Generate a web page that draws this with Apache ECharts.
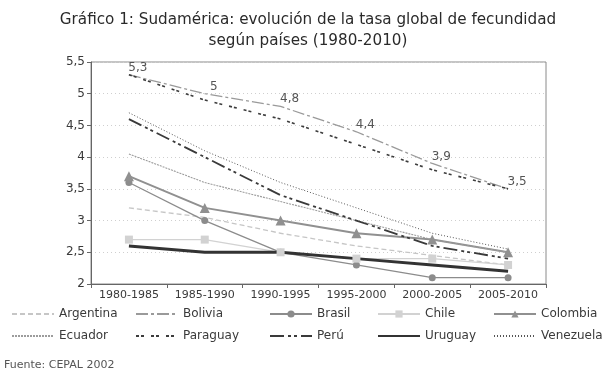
<!DOCTYPE html>
<html>
<head>
<meta charset="utf-8">
<script src="https://cdn.jsdelivr.net/npm/echarts@6/dist/echarts.min.js"></script>
<style>
  html, body { margin: 0; padding: 0; background: #fff; }
  #chart { width: 616px; height: 380px; }
</style>
</head>
<body>
<div id="chart"></div>
<script>
// periodos (eje x)
const periods = ['1980-1985', '1985-1990', '1990-1995', '1995-2000', '2000-2005', '2005-2010'];

// tasa global de fecundidad por pais
const argentina = [3.2, 3.05, 2.8, 2.6, 2.45, 2.3];
const bolivia = [5.3, 5.0, 4.8, 4.4, 3.9, 3.5];
const brasil = [3.6, 3.0, 2.5, 2.3, 2.1, 2.1];
const chile = [2.7, 2.7, 2.5, 2.4, 2.4, 2.3];
const colombia = [3.7, 3.2, 3.0, 2.8, 2.7, 2.5];
const ecuador = [4.05, 3.6, 3.3, 3.0, 2.7, 2.5];
const paraguay = [5.3, 4.9, 4.6, 4.2, 3.8, 3.5];
const peru = [4.6, 4.0, 3.4, 3.0, 2.6, 2.4];
const uruguay = [2.6, 2.5, 2.5, 2.4, 2.3, 2.2];
const venezuela = [4.7, 4.1, 3.6, 3.2, 2.8, 2.55];

const yTicks = { min: 2, max: 5.5, interval: 0.5 };

// series drawn without markers (legend shows only the line)
const noMarker = ['Argentina', 'Bolivia', 'Ecuador', 'Paraguay', 'Perú', 'Uruguay', 'Venezuela'];

const FONT = 'DejaVu Sans';
const chart = echarts.init(document.getElementById('chart'));

// helper for one line series
const line = (name, data, color, width, type, symbol, symbolSize) => ({
  name,
  type: 'line',
  data,
  color,
  symbol: symbol || 'none',
  symbolSize: symbolSize || 0,
  showSymbol: !!symbol,
  itemStyle: { color },
  lineStyle: { color, width, type },
  emphasis: { disabled: true },
  animation: false
});

const columnLegend = (left, names) => ({
  left,
  top: 303,
  orient: 'vertical',
  itemWidth: 42,
  itemHeight: 9,
  itemGap: 10,
  data: names.map(n => noMarker.includes(n)
    ? { name: n, itemStyle: { opacity: 0 } }
    : { name: n }),
  textStyle: { color: '#3a3a3a', fontSize: 12, fontFamily: FONT },
  selectedMode: false
});

const bol = line('Bolivia', bolivia, '#9a9a9a', 1.3, [12, 3, 3, 3], 'circle', 0.1);
bol.itemStyle = { color: 'rgba(0,0,0,0)' };
bol.label = {
  show: true,
  position: 'top',
  distance: 1,
  offset: [9, 0],
  color: '#555',
  fontSize: 12,
  fontFamily: FONT,
  formatter: p => String(p.value).replace('.', ',')
};

chart.setOption({
  animation: false,
  textStyle: { fontFamily: FONT },
  title: {
    text: 'Gráfico 1: Sudamérica: evolución de la tasa global de fecundidad\nsegún países (1980-2010)',
    left: 'center',
    top: 5,
    textStyle: {
      color: '#2a2a2a',
      fontSize: 15.2,
      fontWeight: 'normal',
      fontFamily: FONT,
      lineHeight: 21,
      align: 'center'
    }
  },
  legend: [
    columnLegend(6, ['Argentina', 'Ecuador']),
    columnLegend(130, ['Bolivia', 'Paraguay']),
    columnLegend(264, ['Brasil', 'Perú']),
    columnLegend(372, ['Chile', 'Uruguay']),
    columnLegend(488, ['Colombia', 'Venezuela'])
  ],
  graphic: [{
    type: 'text',
    left: 4,
    top: 360,
    style: { text: 'Fuente: CEPAL 2002', fill: '#555', fontSize: 11, fontFamily: FONT }
  }],
  grid: {
    left: 91,
    right: 70,
    top: 62,
    bottom: 96,
    show: true,
    borderColor: '#8a8a8a',
    borderWidth: 1
  },
  xAxis: {
    type: 'category',
    data: periods,
    boundaryGap: true,
    axisLine: { lineStyle: { color: '#666' } },
    axisTick: { show: true, length: 4, lineStyle: { color: '#666' } },
    axisLabel: { color: '#3a3a3a', fontSize: 11, margin: 6, interval: 0, fontFamily: FONT },
    splitLine: { show: false }
  },
  yAxis: {
    type: 'value',
    min: yTicks.min,
    max: yTicks.max,
    interval: yTicks.interval,
    axisLine: { show: true, lineStyle: { color: '#666' } },
    axisTick: { show: true, length: 4, lineStyle: { color: '#666' } },
    axisLabel: {
      color: '#3a3a3a',
      fontSize: 12,
      margin: 6,
      fontFamily: FONT,
      formatter: v => String(v).replace('.', ',')
    },
    splitLine: { show: true, lineStyle: { color: '#cfcfcf', type: [1, 3] } }
  },
  series: [
    line('Argentina', argentina, '#c6c6c6', 1.3, [5, 3]),
    bol,
    line('Brasil', brasil, '#8c8c8c', 1.3, 'solid', 'circle', 7),
    line('Chile', chile, '#d2d2d2', 1.3, 'solid', 'rect', 8),
    line('Colombia', colombia, '#909090', 2, 'solid', 'triangle', 10),
    line('Ecuador', ecuador, '#9c9c9c', 1.1, [2, 1]),
    line('Paraguay', paraguay, '#3c3c3c', 1.6, [3, 2, 3, 7]),
    line('Perú', peru, '#3a3a3a', 1.8, [14, 4, 3, 3, 3, 4]),
    line('Uruguay', uruguay, '#333', 3, 'solid'),
    line('Venezuela', venezuela, '#555', 1, [1, 2])
  ]
});
</script>
</body>
</html>
